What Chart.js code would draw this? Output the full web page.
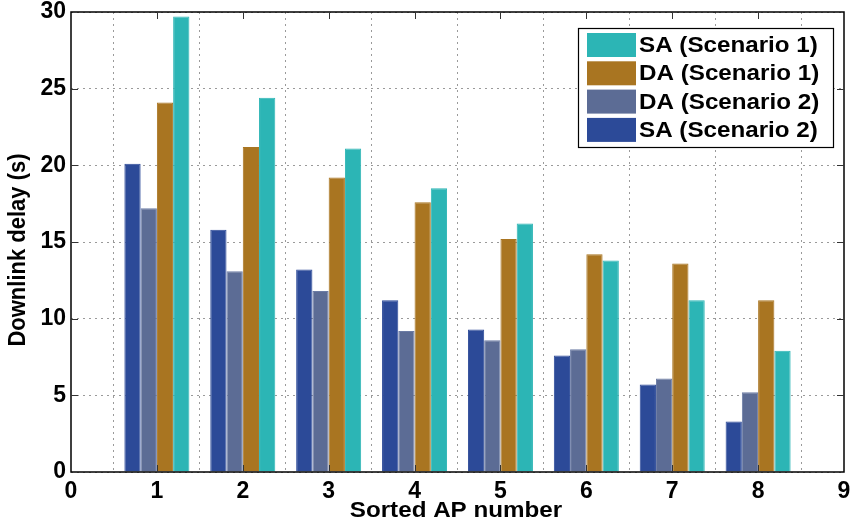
<!DOCTYPE html>
<html>
<head>
<meta charset="utf-8">
<script src="https://cdn.jsdelivr.net/npm/chart.js@4.4.1/dist/chart.umd.min.js"></script>
<style>
  html, body { margin: 0; padding: 0; background: #fff; }
  #wrap { width: 852px; height: 525px; }
</style>
</head>
<body>
<div id="wrap"><canvas id="delayChart"></canvas></div>
<script>
// x positions 0..9, bars only at 1..8
const apLabels = ['0', '1', '2', '3', '4', '5', '6', '7', '8', '9'];
const saScenario2 = [20.1, 15.8, 13.2, 11.2, 9.3, 7.6, 5.7, 3.3];
const daScenario2 = [17.2, 13.1, 11.8, 9.2, 8.6, 8.0, 6.1, 5.2];
const daScenario1 = [24.1, 21.2, 19.2, 17.6, 15.2, 14.2, 13.6, 11.2];
const saScenario1 = [29.7, 24.4, 21.1, 18.5, 16.2, 13.8, 11.2, 7.9];
const yTickValues = [0, 5, 10, 15, 20, 25, 30];

const FONT = "'Liberation Sans', Arial, Helvetica, sans-serif";
const STRETCH = 1.1; // reference text is a bit wide

function pad(arr) { return [null, ...arr, null]; }

function stretchedText(ctx, text, x, y, align, rotate) {
    ctx.save();
    ctx.translate(x, y);
    ctx.scale(STRETCH, 1);
    if (rotate) ctx.rotate(-Math.PI / 2);
    ctx.textAlign = align;
    ctx.textBaseline = 'middle';
    ctx.fillText(text, 0, 0);
    ctx.restore();
}

const framePlugin = {
    id: 'matlabFrame',
    afterDraw(chart) {
        const ctx = chart.ctx;
        const a = chart.chartArea;
        const xs = chart.scales.x, ys = chart.scales.y;
        ctx.save();
        ctx.setLineDash([]);
        ctx.strokeStyle = '#000';
        ctx.lineWidth = 1.5;
        ctx.strokeRect(a.left, a.top, a.right - a.left, a.bottom - a.top);

        // inward tick marks
        ctx.lineWidth = 1;
        ctx.strokeStyle = '#333';
        ctx.beginPath();
        for (let i = 1; i < apLabels.length - 1; i++) {
            const px = Math.round(xs.getPixelForTick(i)) + 0.5;
            ctx.moveTo(px, a.bottom); ctx.lineTo(px, a.bottom - 7);
            ctx.moveTo(px, a.top); ctx.lineTo(px, a.top + 7);
        }
        yTickValues.slice(1, -1).forEach(v => {
            const py = Math.round(ys.getPixelForValue(v)) + 0.5;
            ctx.moveTo(a.left, py); ctx.lineTo(a.left + 7, py);
            ctx.moveTo(a.right, py); ctx.lineTo(a.right - 7, py);
        });
        ctx.stroke();

        // axis titles
        ctx.fillStyle = '#000';
        ctx.font = 'bold 22px ' + FONT;
        stretchedText(ctx, 'Sorted AP number', 456, 511, 'center', false);
        stretchedText(ctx, 'Downlink delay (s)', 18, 250, 'center', true);

        // legend box, drawn in reverse dataset order
        ctx.fillStyle = '#fff';
        ctx.fillRect(578, 28, 255, 119);
        ctx.strokeStyle = '#000';
        ctx.lineWidth = 1.2;
        ctx.strokeRect(578.5, 28.5, 255, 119);
        const items = chart.data.datasets.slice().reverse();
        items.forEach((ds, i) => {
            const y = 33 + i * 28.3;
            ctx.fillStyle = ds.backgroundColor;
            ctx.fillRect(587, y, 49, 24);
            ctx.fillStyle = '#000';
            ctx.font = 'bold 22px ' + FONT;
            stretchedText(ctx, ds.label, 639, y + 13, 'left', false);
        });
        ctx.restore();
    }
};

const barOpts = { categoryPercentage: 0.757, barPercentage: 1.0, borderWidth: 1, borderSkipped: 'bottom' };

new Chart(document.getElementById('delayChart'), {
    type: 'bar',
    data: {
        labels: apLabels,
        datasets: [
            { label: 'SA (Scenario 2)', data: pad(saScenario2), backgroundColor: '#2c4a98', borderColor: '#2c4a98', ...barOpts },
            { label: 'DA (Scenario 2)', data: pad(daScenario2), backgroundColor: '#5c6c95', borderColor: '#6c7ca5', ...barOpts },
            { label: 'DA (Scenario 1)', data: pad(daScenario1), backgroundColor: '#a97521', borderColor: '#a97521', ...barOpts },
            { label: 'SA (Scenario 1)', data: pad(saScenario1), backgroundColor: '#2cb5b5', borderColor: '#2cb5b5', ...barOpts }
        ]
    },
    options: {
        responsive: true,
        maintainAspectRatio: false,
        animation: false,
        layout: { padding: { top: 12, right: 8, left: 0, bottom: 0 } },
        plugins: { legend: { display: false }, tooltip: { enabled: false } },
        scales: {
            x: {
                type: 'category',
                offset: false,
                grid: { display: true, color: '#9a9a9a', lineWidth: 1, drawTicks: false },
                border: { display: false, dash: [2, 4] },
                ticks: { color: '#000', font: { family: FONT, size: 23, weight: 'bold' }, padding: 6, maxRotation: 0, autoSkip: false },
                afterFit(scale) { scale.height = 53; scale.paddingLeft = 0; scale.paddingRight = 0; }
            },
            y: {
                min: 0,
                max: 30,
                grid: { display: true, color: '#9a9a9a', lineWidth: 1, drawTicks: false },
                border: { display: false, dash: [2, 4] },
                ticks: { stepSize: 5, color: '#000', font: { family: FONT, size: 23, weight: 'bold' }, padding: 5 },
                afterBuildTicks(scale) { scale.ticks = yTickValues.map(v => ({ value: v })); },
                afterFit(scale) { scale.width = 71; scale.paddingTop = 0; scale.paddingBottom = 0; }
            }
        }
    },
    plugins: [framePlugin]
});
</script>
</body>
</html>
